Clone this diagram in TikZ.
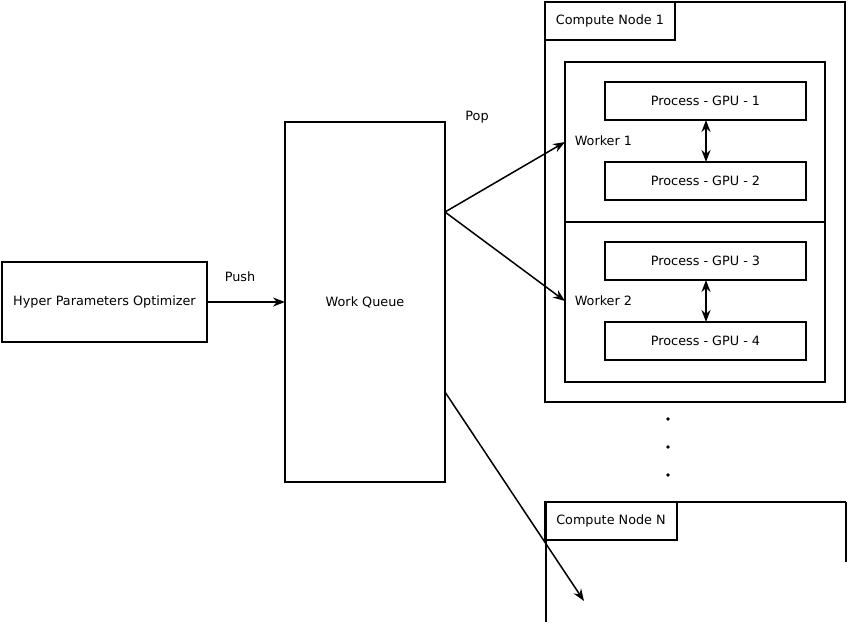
\documentclass[tikz,border=0pt]{standalone}
\usepackage{fontspec}
\setmainfont{DejaVu Sans}
\usetikzlibrary{arrows.meta}
\begin{document}
\begin{tikzpicture}[x=1pt,y=-1pt,line width=1.5pt,
  lbl/.style={font=\fontsize{12.8}{14}\selectfont,inner sep=0pt},
  arr/.style={-{Stealth[length=12pt,width=9pt]}},
  darr/.style={{Stealth[length=12pt,width=9pt]}-{Stealth[length=12pt,width=9pt]}}]
\useasboundingbox (0,0) rectangle (848,624);
\fill[white] (0,0) rectangle (848,624);
\draw (2,262) rectangle (207,342);
\node[lbl] (hpo) at (104.5,302) {Hyper Parameters Optimizer};
\coordinate (hpoR) at (207,302);
\draw (285,122) rectangle (445,482);
\node[lbl] (wq) at (365,302) {Work Queue};
\coordinate (wqL) at (285,302);
\coordinate (wqA) at (445,212);
\coordinate (wqB) at (445,392);
\node[lbl] (push) at (240,277) {Push};
\node[lbl] (pop) at (477,117) {Pop};
\draw[arr] (hpoR) -- (wqL);
% compute node 1
\draw (545,2) rectangle (845,402);
\draw (545,2) rectangle (675,40);
\node[lbl] (cn1) at (610,21) {Compute Node 1};
\draw (565,62) rectangle (825,382);
\draw (565,222) -- (825,222);
\coordinate (w1) at (565,142);
\coordinate (w2) at (565,301);
\node[lbl,anchor=west] (w1l) at (574,141) {Worker 1};
\node[lbl,anchor=west] (w2l) at (574,301) {Worker 2};
\foreach \n/\y in {1/82,2/162,3/242,4/322}{
  \draw (605,\y) rectangle (806,\y+38);
  \node[lbl] (p\n) at (705.5,\y+19) {Process - GPU - \n};
  \coordinate (pt\n) at (706,\y);
  \coordinate (pb\n) at (706,\y+38);
}
\draw[darr] (pb1) -- (pt2);
\draw[darr] (pb3) -- (pt4);
\draw[arr] (wqA) -- (w1);
\draw[arr] (wqA) -- (w2);
\foreach \y in {419,447,475} \fill (668,\y) circle (1.8pt);
% compute node N
\draw (545,502) -- (846,502);
\draw (546,502) -- (546,622);
\draw (846,502) -- (846,562);
\draw (545,502) rectangle (677,540);
\node[lbl] (cnn) at (611,521) {Compute Node N};
\coordinate (nEnd) at (584,601);
\draw[arr] (wqB) -- (nEnd);
\end{tikzpicture}
\end{document}
